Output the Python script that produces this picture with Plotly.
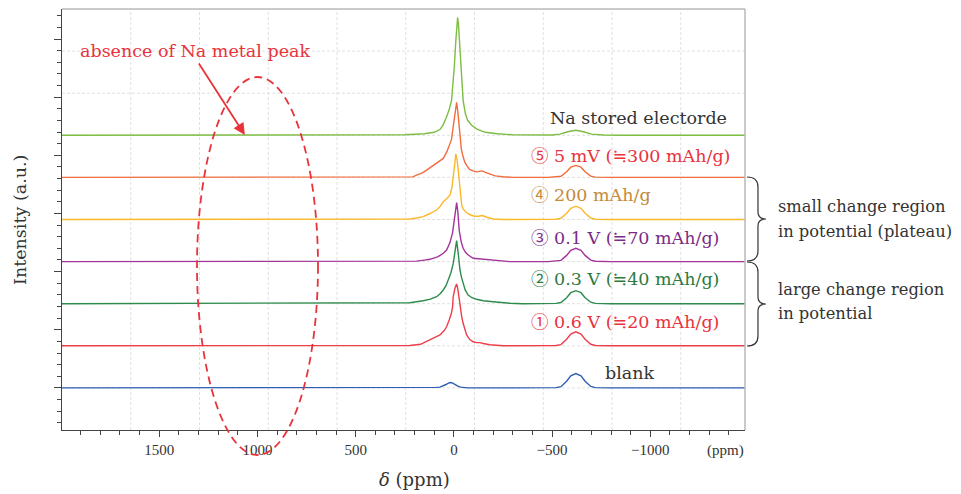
import plotly.graph_objects as go

# ---------------- data (ppm, intensity a.u. above each baseline) ----------------
blank_ppm = [1995, 300, 150, 90, 71, 55, 40, 28, 17, 8, -5, -20, -35, -47, -70, -300, -480, -520, -545, -574, -595, -621, -647, -668, -697, -720, -800, -1482]
blank_int = [0, 0, 0.2, 0.5, 0.8, 1.8, 3.4, 4.8, 5.4, 5.0, 3.4, 1.8, 0.8, 0.3, 0, 0, 0, 0.3, 1.2, 6.7, 12, 14.3, 12, 6.7, 1.5, 0.3, 0, 0]

r1_ppm = [1995, 300, 224, 170, 131, 100, 71, 50, 37, 24, 12, 6.6, 3.6, -6, -14, -20, -31, -40, -47, -56, -65, -80, -98, -115, -132, -150, -183, -251, -480, -520, -545, -574, -595, -621, -647, -668, -697, -720, -800, -1482]
r1_int = [0, 0, 0.3, 1.5, 5, 8, 10.8, 15, 19, 25.8, 33, 39, 49, 58, 61.8, 57, 39, 29, 22.5, 15, 10.8, 6.5, 4, 3.2, 3.2, 2.3, 1, 0, 0, 0.3, 1.2, 6.5, 11.8, 14, 11.8, 6.5, 1.5, 0.3, 0, 0]

r2_ppm = [1995, 300, 224, 156, 120, 88, 70, 54, 40, 29, 15, 3.6, -6, -14, -21, -31, -39, -47, -58, -73, -92, -115, -150, -200, -285, -350, -480, -520, -545, -574, -595, -621, -647, -668, -697, -720, -800, -1482]
r2_int = [0, 0.3, 1, 3, 4.5, 7, 10, 13.7, 18, 23.7, 31, 40, 55, 63, 52, 33.7, 26, 20.4, 13.5, 8.7, 6, 4.4, 3, 2, 0.4, 0, 0, 0.3, 1.2, 6, 11, 13, 11, 6, 1.5, 0.3, 0, 0]

r3_ppm = [1995, 250, 190, 150, 122, 80, 54, 37, 20, 6.6, -5, -14, -20, -27, -37, -47, -60, -73, -98, -150, -200, -285, -480, -520, -545, -574, -595, -621, -647, -668, -697, -720, -800, -1482]
r3_int = [0, 0, 0.5, 1.5, 2.3, 5, 8.3, 11.6, 19, 29, 48, 59, 50, 31.6, 20, 13.3, 9, 6.6, 3.3, 2.2, 1.6, 0, 0, 0.3, 1.2, 6.2, 11.2, 13.3, 11.2, 6.2, 1.5, 0.3, 0, 0]

r4_ppm = [1995, 300, 224, 190, 156, 122, 88, 70, 54, 35, 20, 10, 3.4, -4, -10, -16, -22, -28, -34, -40, -47, -60, -80, -100, -125, -146, -165, -199, -250, -480, -520, -545, -574, -595, -621, -647, -668, -697, -720, -800, -1482]
r4_int = [0, 0, 0.5, 1.5, 2.8, 6, 9.5, 13, 17.8, 21, 24.5, 32, 41, 55, 65.7, 60, 50, 38, 24, 14, 10.5, 7.5, 5, 3.5, 3.2, 4, 2.5, 0.5, 0, 0, 0.3, 1.2, 6.2, 11.2, 13.3, 11.2, 6.2, 1.5, 0.3, 0, 0]

r5_ppm = [1995, 300, 209, 190, 160, 139, 110, 80, 54, 35, 20, 12, 4, -5, -14, -20, -26, -31, -38, -47, -56, -65, -80, -97, -115, -130, -146, -160, -183, -210, -250, -300, -480, -520, -545, -574, -595, -621, -647, -668, -697, -720, -800, -1482]
r5_int = [0, 0, 0.5, 2.3, 4.5, 7.3, 11, 15.6, 19, 26, 33, 38, 50, 62, 75, 66, 50, 38, 28, 20.6, 15, 12, 8, 6.5, 5.5, 6, 6.5, 5, 3.3, 1.5, 0.7, 0, 0, 0.3, 1.1, 5.7, 10.2, 12, 10.2, 5.7, 1.3, 0.3, 0, 0]

na_ppm = [1995, 400, 250, 150, 100, 70, 56, 40, 25, 12, 5, -2, -10, -16, -19, -23, -28, -34, -40, -47, -58, -70, -90, -120, -160, -220, -300, -420, -500, -540, -580, -620, -660, -700, -760, -850, -1482]
na_int = [0, 0, 0.5, 1.5, 3, 6, 10, 17, 25, 35, 50, 68, 95, 113, 117.7, 112, 95, 68, 50, 35, 22, 15, 10, 6, 3, 1.5, 0.5, 0, 0.3, 1.2, 3.5, 5, 3.5, 1.2, 0.3, 0, 0]

series_ppm = [blank_ppm, r1_ppm, r2_ppm, r3_ppm, r4_ppm, r5_ppm, na_ppm]
series_int = [blank_int, r1_int, r2_int, r3_int, r4_int, r5_int, na_int]
series_names = ["blank", "\u2460 0.6 V (\u225220 mAh/g)", "\u2461 0.3 V (\u225240 mAh/g)",
                "\u2462 0.1 V (\u225270 mAh/g)", "\u2463 200 mAh/g",
                "\u2464 5 mV (\u2252300 mAh/g)", "Na stored electorde"]
series_offset = [0, 42.1, 84.2, 126.3, 168.4, 210.5, 252.6]
line_colors = ["#2f5db4", "#ee3e4a", "#2e8b4e", "#a3359a", "#fbb829", "#f26d3d", "#7cbd42"]
label_colors = ["#333333", "#e8323c", "#2c7a3f", "#7b2c86", "#c58a3a", "#e8323c", "#333333"]

tick_vals = [1500, 1000, 500, 0, -500, -1000]
tick_text = ["1500", "1000", "500", "0", "\u2212500", "\u22121000"]
grid_x = [1645, 1295, 945, 595, 245, -105, -455, -805, -1155]
grid_y = [0, 42.1, 84.2, 126.3, 168.4, 210.5, 252.6, 294.7, 336.8]

X_RANGE = [1995, -1482]
Y_RANGE = [-42.1, 378.9]

SERIF = "DejaVu Serif, Noto Sans CJK JP, serif"
TICKF = "Liberation Serif, DejaVu Serif, serif"
RED = "#e8333b"

fig = go.Figure()
for p, v, off, c, n in zip(series_ppm, series_int, series_offset, line_colors, series_names):
    fig.add_trace(go.Scatter(x=p, y=[off + a for a in v], mode="lines",
                             line=dict(color=c, width=1.4), name=n, hoverinfo="skip"))

# ---- layout helpers (pixel -> paper) ----
L, R, T, B = 62, 745, 9, 430
def px(x):
    return (x - L) / (R - L)
def py(y):
    return (B - y) / (B - T)
def P(x, y):
    return f"{px(x):.4f},{py(y):.4f}"

shapes = []
for g in grid_x:
    shapes.append(dict(type="line", xref="x", yref="paper", x0=g, x1=g, y0=0, y1=1,
                       line=dict(color="#e0e0e0", width=1, dash="3px,2px"), layer="below"))
for g in grid_y:
    shapes.append(dict(type="line", xref="paper", yref="y", x0=0, x1=1, y0=g, y1=g,
                       line=dict(color="#e0e0e0", width=1, dash="3px,2px"), layer="below"))
# light frame top / right
shapes.append(dict(type="line", xref="paper", yref="paper", x0=0, x1=1, y0=1, y1=1,
                   line=dict(color="#b8b8b8", width=1.5)))
shapes.append(dict(type="line", xref="paper", yref="paper", x0=1, x1=1, y0=0, y1=1,
                   line=dict(color="#b8b8b8", width=1.5)))

# braces
def brace(yt, yb):
    ym = (yt + yb) / 2
    return (f"M {P(747, yt)} Q {P(758, yt)} {P(758, yt + 10)} L {P(758, ym - 7)} "
            f"Q {P(758, ym)} {P(766, ym)} Q {P(758, ym)} {P(758, ym + 7)} "
            f"L {P(758, yb - 10)} Q {P(758, yb)} {P(747, yb)}")
for yt, yb in [(177, 261), (262, 346)]:
    shapes.append(dict(type="path", xref="paper", yref="paper", path=brace(yt, yb),
                       line=dict(color="#333333", width=1.2)))

# dashed ellipse
shapes.append(dict(type="circle", xref="paper", yref="paper",
                   x0=px(197), x1=px(318), y0=py(455), y1=py(77),
                   line=dict(color=RED, width=1.8, dash="8px,5px")))

annotations = []
label_x = [-759, -382, -382, -382, -382, -382, -1400]
label_anchor = ["left", "left", "left", "left", "left", "left", "right"]
label_y = [15.2, 66.2, 108.9, 149.9, 192.9, 231.9, 269.9]
for n, c, lx, la, ly in zip(series_names, label_colors, label_x, label_anchor, label_y):
    annotations.append(dict(x=lx, y=ly, xref="x", yref="y", text=n, showarrow=False,
                            xanchor=la, yanchor="middle",
                            font=dict(family=SERIF, size=17.5, color=c)))

side_text = [("small change region", 206), ("in potential (plateau)", 231),
             ("large change region", 289), ("in potential", 313.5)]
for t, yy in side_text:
    annotations.append(dict(x=px(776), y=py(yy), xref="paper", yref="paper", text=t,
                            showarrow=False, xanchor="left", yanchor="middle",
                            font=dict(family=SERIF, size=16.3, color="#333333")))

annotations.append(dict(x=px(195), y=py(51), xref="paper", yref="paper",
                        text="absence of Na metal peak", showarrow=False,
                        xanchor="center", yanchor="middle",
                        font=dict(family=SERIF, size=17.5, color=RED)))
annotations.append(dict(x=1064, y=252.9, xref="x", yref="y", text="", showarrow=True,
                        ax=-47, ay=-73, axref="pixel", ayref="pixel",
                        arrowhead=2, arrowsize=1.3, arrowwidth=1.8, arrowcolor=RED,
                        standoff=0))
annotations.append(dict(x=px(20), y=py(220), xref="paper", yref="paper",
                        text="Intensity (a.u.)", textangle=-90, showarrow=False,
                        xanchor="center", yanchor="middle",
                        font=dict(family=SERIF, size=17.5, color="#333333")))
annotations.append(dict(x=px(414), y=py(479), xref="paper", yref="paper",
                        text="<i>\u03b4</i> (ppm)", showarrow=False,
                        xanchor="center", yanchor="middle",
                        font=dict(family=SERIF, size=18, color="#333333")))
annotations.append(dict(x=px(725), y=py(450), xref="paper", yref="paper",
                        text="(ppm)", showarrow=False,
                        xanchor="center", yanchor="middle",
                        font=dict(family=TICKF, size=15, color="#333333")))

fig.update_layout(
    width=961, height=494,
    margin=dict(l=L, r=961 - R, t=T, b=494 - B),
    paper_bgcolor="white", plot_bgcolor="white",
    showlegend=False,
    shapes=shapes, annotations=annotations,
    xaxis=dict(range=X_RANGE, tickmode="array", tickvals=tick_vals, ticktext=tick_text,
               ticks="outside", ticklen=6, tickcolor="#444", tickwidth=1,
               showline=True, linecolor="#444", linewidth=1.2,
               showgrid=False, zeroline=False,
               tickfont=dict(family=TICKF, size=15, color="#333333"),
               minor=dict(dtick=100, tick0=0, ticks="outside", ticklen=4,
                          tickcolor="#444", showgrid=False)),
    yaxis=dict(range=Y_RANGE, tickmode="linear", tick0=0, dtick=58.15,
               ticks="outside", ticklen=7, tickcolor="#444", tickwidth=1,
               showticklabels=False, showline=True, linecolor="#444", linewidth=1.2,
               showgrid=False, zeroline=False,
               minor=dict(dtick=11.63, tick0=0, ticks="outside", ticklen=4,
                          tickcolor="#444", showgrid=False)),
)

fig.write_html("out.html", config={"displayModeBar": False},
               post_script="document.body.style.margin='0';document.body.style.padding='0';")
